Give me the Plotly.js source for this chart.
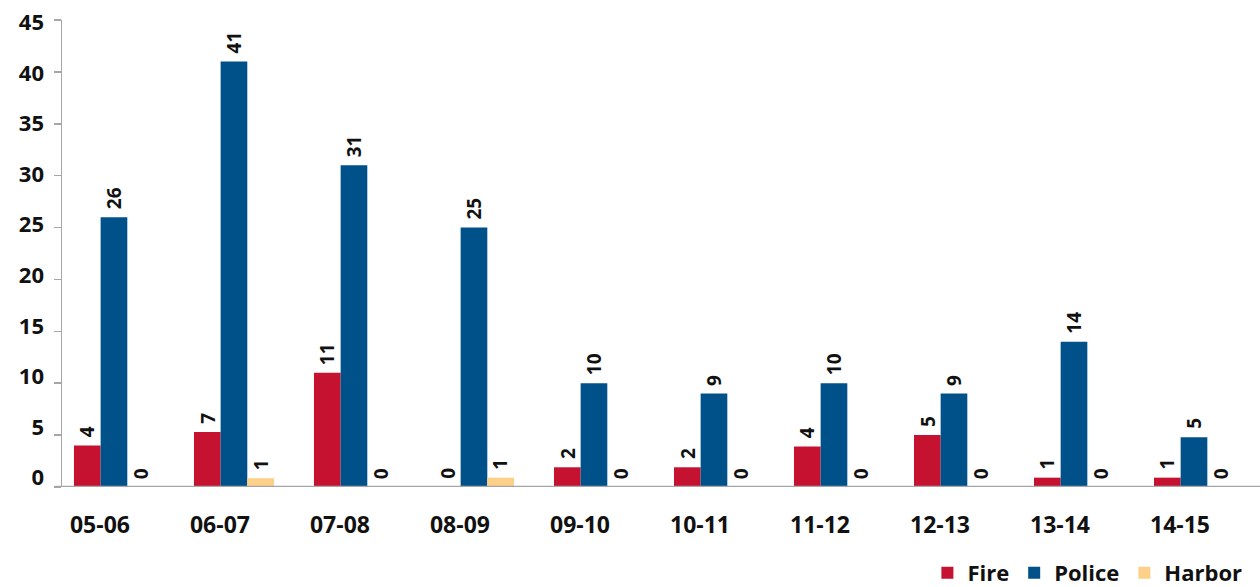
<!DOCTYPE html>
<html>
<head>
<meta charset="utf-8">
<script src="https://cdn.plot.ly/plotly-3.0.1.min.js"></script>
<style>html,body{margin:0;padding:0;background:#fff;}#chart{width:1260px;height:587px;}</style>
</head>
<body>
<div id="chart"></div>
<script>
const categories = ['05-06','06-07','07-08','08-09','09-10','10-11','11-12','12-13','13-14','14-15'];
// bar heights as drawn in the picture
const fireValues   = [4, 5.3, 11, 0, 1.9, 1.9, 3.9, 5, 0.9, 0.9];
const policeValues = [26, 41, 31, 25, 10, 9, 10, 9, 14, 4.8];
const harborValues = [0, 0.85, 0, 0.9, 0, 0, 0, 0, 0, 0];
// data labels as printed in the picture
const fireLabels   = ['4','7','11','0','2','2','4','5','1','1'];
const policeLabels = ['26','41','31','25','10','9','10','9','14','5'];
const harborLabels = ['0','1','0','1','0','0','0','0','0','0'];
const yTickValues = [0,5,10,15,20,25,30,35,40,45];

const FONT = '"Open Sans", "Noto Sans", sans-serif';
const colors = {fire:'#C41230', police:'#00508A', harbor:'#FDD08A'};

const series = [
  {name:'Fire', y:fireValues, labels:fireLabels, color:colors.fire, shift:-26.67},
  {name:'Police', y:policeValues, labels:policeLabels, color:colors.police, shift:0},
  {name:'Harbor', y:harborValues, labels:harborLabels, color:colors.harbor, shift:26.67}
];

const traces = series.map(s => ({
  type:'bar', name:s.name, x:categories, y:s.y,
  marker:{color:s.color, line:{width:0}},
  hoverinfo:'skip'
}));

const annotations = [];
series.forEach(s => {
  categories.forEach((c, i) => {
    annotations.push({
      x:c, y:s.y[i], xref:'x', yref:'y', text:s.labels[i],
      showarrow:false, textangle:-90, xanchor:'center', yanchor:'bottom',
      xshift:s.shift, yshift:6,
      font:{family:FONT, size:19, color:'#111', weight:'bold'}
    });
  });
});

const layout = {
  width:1260, height:587,
  margin:{l:62, r:0, t:19.5, b:100, pad:0, autoexpand:false},
  paper_bgcolor:'#fff', plot_bgcolor:'#fff',
  barmode:'group', bargap:0.3333, bargroupgap:0,
  showlegend:true,
  legend:{orientation:'h', xref:'container', yref:'container', x:0.99, xanchor:'right', y:0.024, yanchor:'middle',
    font:{family:FONT, size:22, color:'#111', weight:'bold'}, itemwidth:30, traceorder:'normal'},
  xaxis:{type:'category', range:[-0.433, 9.55], showgrid:false, zeroline:false,
    showline:false, ticks:'', ticklabelshift:-14, ticklabelstandoff:22,
    tickfont:{family:FONT, size:23, color:'#111', weight:'bold'}},
  yaxis:{range:[0,45], showgrid:false, zeroline:false, showline:true, linecolor:'#a6a6a6', linewidth:1.5,
    ticks:'outside', ticklen:7, tickcolor:'#a6a6a6', tickwidth:1.5,
    tickmode:'array', tickvals:yTickValues, showticklabels:false},
  yaxis2:{overlaying:'y', side:'left', range:[-0.94, 45.25], showgrid:false, zeroline:false, showline:false,
    ticks:'', tickmode:'array', tickvals:yTickValues, ticktext:yTickValues.map(String),
    ticklabelstandoff:17, tickfont:{family:FONT, size:22, color:'#111', weight:'bold'}},
  shapes:[{type:'line', xref:'paper', yref:'y', x0:-0.006, x1:1, y0:0, y1:0,
    line:{color:'#a6a6a6', width:2.5}, layer:'above'}],
  annotations:annotations
};

// invisible helper trace so the label axis is drawn
traces.push({type:'scatter', x:[categories[0]], y:[0], yaxis:'y2', mode:'markers',
  marker:{opacity:0}, showlegend:false, hoverinfo:'skip'});

Plotly.newPlot('chart', traces, layout, {staticPlot:true, displayModeBar:false});
</script>
</body>
</html>
